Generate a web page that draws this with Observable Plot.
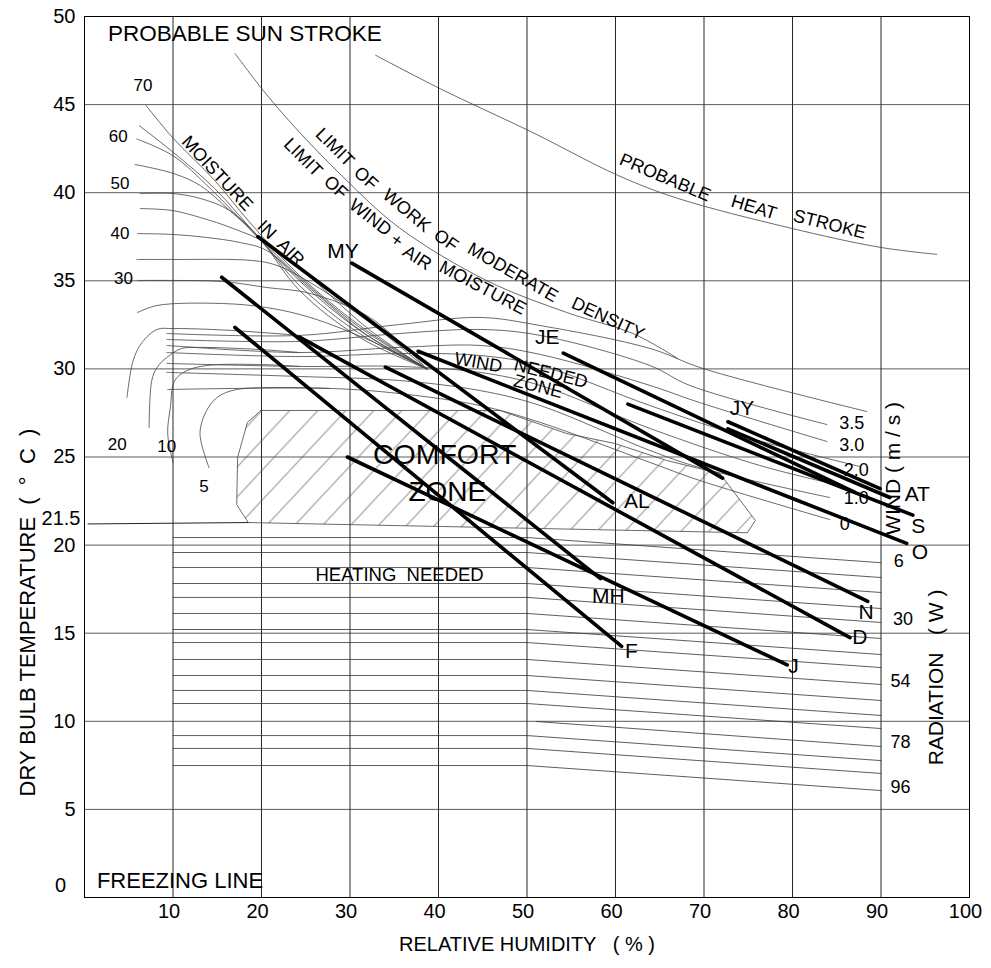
<!DOCTYPE html>
<html><head><meta charset="utf-8">
<script src="https://cdn.jsdelivr.net/npm/d3@7"></script>
<script src="https://cdn.jsdelivr.net/npm/@observablehq/plot@0.6"></script>
<style>body{margin:0;background:#fff}</style>
</head><body><div id="chart"></div>
<script>
// ---------- axes ----------
const xTicks = [10,20,30,40,50,60,70,80,90,100];
const yTicks = [5,10,15,20,25,30,35,40,45,50];
const xGrid = [10,20,30,40,50,60,70,80,90];
const yGrid = [5,10,15,20,25,30,35,40,45];

// ---------- boundary curves [RH %, T °C] ----------
const sunStrokeLimit = [[17.0,47.9],[20.2,45.8],[23.8,43.7],[29.2,40.9],[35.6,38.0],[45.5,35.0],[54.5,33.2],[62.0,32.0],[67.0,30.6]];
const heatStroke = [[32.9,47.8],[40.2,45.9],[50.7,43.4],[60.2,41.0],[66.9,39.7],[79.7,38.0],[89.9,36.9],[96.3,36.5]];

// moisture lines (left fan)
const moisture70 = [[6.95,44.95],[10.0,43.1],[14.7,40.7],[18.7,38.3],[24.3,35.3],[31.1,32.46],[38.7,30.0]];
const moisture65 = [[6.2,43.8],[10.0,42.3],[14.7,40.24],[19.3,37.7],[24.3,35.2],[31.1,32.35],[38.7,30.0]];
const moisture60 = [[5.9,43.05],[10.0,42.1],[14.2,40.24],[19.3,37.6],[24.3,35.0],[31.1,32.18],[38.7,30.0]];
const moisture55 = [[5.7,41.6],[10.0,41.1],[13.1,40.4],[16.4,38.99],[19.6,37.52],[24.3,34.73],[31.1,32.0],[38.7,30.0]];
const moisture50 = [[6.3,39.95],[10.0,39.95],[13.1,39.67],[16.4,38.99],[19.8,37.4],[24.3,34.45],[31.1,31.78],[38.7,30.0]];
const moisture45 = [[6.3,39.1],[9.9,38.99],[13.1,38.59],[16.8,37.97],[20.6,37.12],[25.5,35.19],[32.3,32.18],[38.7,30.0]];
const moisture40 = [[6.0,37.68],[10.0,37.63],[13.8,37.46],[17.6,37.17],[20.6,36.72],[25.5,34.56],[32.3,31.78],[38.7,30.0]];
const moisture35 = [[5.9,36.21],[10.0,36.21],[19.0,36.15],[21.75,35.87],[25.5,34.9],[32.3,32.6],[38.7,30.0]];
const moisture30 = [[6.0,35.02],[10.0,35.02],[15.6,34.96],[20.6,34.62],[25.5,34.28],[32.3,32.9],[38.7,30.0]];
const moisture25 = [[6.0,33.2],[8.2,33.6],[15.6,33.71],[20.6,33.48],[25.5,32.92],[32.3,31.6],[38.7,30.0]];

// hook curves 20, 15, 10, 5
const hook20 = [[4.8,28.38],[5.5,30.48],[6.5,31.5],[8.2,32.24],[10.0,32.29],[16.0,32.2],[24.3,31.9]];
const hook15 = [[7.3,26.67],[7.6,29.34],[8.2,30.08],[9.3,30.65],[11.0,31.16],[13.1,31.22],[19.8,31.1],[24.3,30.93]];
const hook10 = [[10.0,24.69],[9.4,26.33],[9.7,27.81],[10.2,29.34],[11.6,29.91],[13.8,30.19],[19.8,30.25],[24.3,30.14]];
const hook5 = [[14.07,24.4],[13.05,26.33],[13.8,27.64],[15.0,28.38],[17.2,28.83],[27.7,28.89]];

// wind lines
const wind1 = [[9.3,32.01],[24.3,31.9],[35.6,32.52],[44.7,32.92],[51.5,32.46],[63.9,31.16],[69.9,30.02],[88.4,27.58]];
const wind2 = [[9.3,31.67],[24.3,31.56],[35.6,32.01],[44.7,32.24],[51.5,31.9],[63.9,30.19],[68.4,29.06],[83.9,26.84]];
const wind3 = [[9.3,31.33],[24.3,30.93],[35.6,31.22],[44.7,31.33],[51.5,30.82],[63.9,29.06],[69.5,28.09],[83.9,25.88]];
const wind4 = [[9.3,30.93],[24.3,30.7],[35.6,30.87],[44.7,30.76],[51.5,30.19],[63.9,27.92],[74.1,26.22],[87.6,24.46]];
const wind5 = [[9.3,30.31],[24.3,30.14],[35.6,30.14],[44.7,29.8],[51.5,29.06],[63.9,26.62],[76.3,24.52],[85.4,23.38]];
const wind6 = [[9.3,29.8],[24.3,29.57],[35.6,29.34],[44.7,28.77],[51.5,27.92],[63.9,25.37],[69.5,24.4],[84.2,22.7]];
const wind7 = [[9.4,28.83],[27.7,28.89],[35.6,28.6],[44.7,27.92],[51.5,26.96],[63.9,24.69],[69.5,23.67],[84.2,21.45]];

// comfort zone outline and 21.5 line
const comfortZone = [[19.95,27.64],[46.95,27.64],[54.5,26.33],[59.9,25.77],[65.8,24.8],[71.8,24.06],[75.2,21.8],[75.8,21.4],[74.9,20.7],[18.5,21.28],[17.2,22.3],[17.3,24.97],[18.4,26.96],[19.95,27.64]];
const line215 = [[0.4,21.2],[18.5,21.28]];

// radiation lines (flat from start to bend, then down to 90 %)
const radStartRH = [10,10,10,10,10,10,10,10,10,10,10,10,51,10,10,10];
const radStartT  = [20.43,19.58,18.73,17.82,17.03,16.12,15.21,14.47,13.51,12.6,11.75,11.01,9.99,9.19,8.46,7.49];
const radEndT    = [19.0,18.16,17.31,16.4,15.61,14.7,13.79,13.05,12.09,11.18,10.33,9.59,8.57,7.77,7.04,6.07];

// monthly climate lines
const monthNames = ["F","MH","AL","MY","J","D","N","O","S","AT","JY","JE"];
const monthRH1 = [17.0,15.5,19.6,30.2,29.7,24.3,34.0,37.7,61.4,72.7,72.7,54.1];
const monthT1  = [32.35,35.2,37.5,36.0,25.0,31.8,30.1,31.0,28.0,26.6,27.0,30.9];
const monthRH2 = [60.7,58.3,59.7,72.1,79.4,86.5,88.5,92.9,93.6,91.0,89.9,87.0];
const monthT2  = [14.25,18.1,22.4,23.8,13.2,14.75,16.8,20.1,21.7,22.7,23.2,23.0];
const monthLabelRH = [61.8,59.2,62.4,29.2,80.1,87.6,88.3,94.4,94.2,94.1,74.3,52.3];
const monthLabelT  = [13.96,17.1,22.5,36.7,13.1,14.75,16.2,19.6,21.05,22.9,27.75,31.8];

// small numeric labels
const moistLabels = ["70","60","50","40","30","20","10","5"];
const moistLabelRH = [6.6,3.8,4.0,4.0,4.4,3.7,9.3,13.5];
const moistLabelT = [46.1,43.2,40.5,37.7,35.1,25.7,25.6,23.3];
const windLabels = ["3.5","3.0","2.0","1.0","0"];
const windLabelRH = [86.7,86.7,87.2,87.2,85.9];
const windLabelT = [26.9,25.65,24.23,22.64,21.2];
const radLabels = ["6","30","54","78","96"];
const radLabelRH = [92.0,92.5,92.2,92.2,92.2];
const radLabelT = [19.1,15.8,12.26,8.8,6.24];

// rotated annotations, word by word along their curves
const noteText = ["MOISTURE","IN","AIR",
  "LIMIT","OF","WORK","OF","MODERATE","DENSITY",
  "LIMIT","OF","WIND","+","AIR","MOISTURE",
  "PROBABLE","HEAT","STROKE",
  "WIND","NEEDED","ZONE"];
const noteRH = [15.0,20.6,23.3, 28.3,31.8,36.4,40.85,48.4,59.15, 24.7,28.4,32.3,35.3,37.6,45.0, 65.6,75.65,84.2, 44.5,52.7,51.25];
const noteT = [41.1,37.9,36.6, 42.57,40.81,38.99,37.29,35.47,32.86, 42.0,40.3,38.6,37.3,36.3,34.6, 40.86,39.16,38.2, 30.36,29.74,29.0];
const noteAngle = [47,45,45, 45,42,40,35,30,25, 45,42,38,35,33,28, 23,17,14, 10,14,14];

// ---------- build tables ----------
const curveList = [["sun",sunStrokeLimit],["heat",heatStroke],["m70",moisture70],["m65",moisture65],["m60",moisture60],["m55",moisture55],["m50",moisture50],["m45",moisture45],["m40",moisture40],["m35",moisture35],["m30",moisture30],["m25",moisture25],["h20",hook20],["h15",hook15],["h10",hook10],["h5",hook5],["w1",wind1],["w2",wind2],["w3",wind3],["w4",wind4],["w5",wind5],["w6",wind6],["w7",wind7]];
const thin = curveList.flatMap(([id, pts]) => pts.map(([x,y]) => ({id, x, y})));
const rad = radStartT.flatMap((t, i) => [
  {id: i, x: radStartRH[i], y: t},
  {id: i, x: Math.max(50, radStartRH[i]), y: t},
  {id: i, x: 90, y: radEndT[i]}
]);
const months = monthNames.flatMap((m, i) => [{id: m, x: monthRH1[i], y: monthT1[i]}, {id: m, x: monthRH2[i], y: monthT2[i]}]);
const comfort = comfortZone.map(([x,y]) => ({x, y}));
const l215 = line215.map(([x,y]) => ({x, y}));
const font = "Liberation Sans, Arial, Helvetica, sans-serif";

const chart = Plot.plot({
  width: 991, height: 968,
  marginLeft: 84, marginRight: 22, marginTop: 16, marginBottom: 71,
  x: {domain: [0, 100]},
  y: {domain: [0, 50]},
  style: {fontFamily: font, background: "#fff", color: "#000"},
  marks: [
    Plot.gridX(xGrid, {stroke: "#111", strokeOpacity: 0.9, strokeWidth: 1}),
    Plot.gridY(yGrid, {stroke: "#333", strokeOpacity: 0.8, strokeWidth: 1}),
    Plot.frame({stroke: "#000", strokeWidth: 1}),
    Plot.line(rad, {x: "x", y: "y", z: "id", stroke: "#333", strokeWidth: 0.8}),
    Plot.line(l215, {x: "x", y: "y", stroke: "#222", strokeWidth: 1}),
    Plot.line(comfort, {x: "x", y: "y", fill: "url(#hatch)", stroke: "#444", strokeWidth: 0.8, curve: "linear"}),
    Plot.line(thin, {x: "x", y: "y", z: "id", stroke: "#444", strokeWidth: 0.8, curve: "catmull-rom"}),
    Plot.line(months, {x: "x", y: "y", z: "id", stroke: "#000", strokeWidth: 3.6}),
    Plot.axisX(xTicks, {tickSize: 0, tickPadding: 6, fontSize: 20, dx: -4, label: null}),
    Plot.axisY(yTicks, {tickSize: 0, tickPadding: 9, fontSize: 20, label: null}),
    Plot.text([0], {x: 0, y: 0, text: () => "0", fontSize: 20, dx: -24, dy: -12}),
    Plot.text(["21.5"], {x: 0, y: 21.5, text: d => d, fontSize: 20, dx: -4, textAnchor: "end"}),
    Plot.text(["RELATIVE HUMIDITY   ( % )"], {x: 50, y: -2.67, text: d => d, fontSize: 20}),
    Plot.text(["DRY BULB TEMPERATURE  (  \u00b0  C  )"], {x: -6.38, y: 16.17, text: d => d, fontSize: 22, rotate: -90}),
    Plot.text(["WIND ( m / s )"], {x: 91.4, y: 24.35, text: d => d, fontSize: 21, rotate: -90}),
    Plot.text(["RADIATION   ( W )"], {x: 96.3, y: 12.49, text: d => d, fontSize: 21, rotate: -90}),
    Plot.text(["PROBABLE SUN STROKE"], {x: 2.66, y: 49.0, text: d => d, fontSize: 22.5, textAnchor: "start"}),
    Plot.text(["FREEZING LINE"], {x: 1.4, y: 0.96, text: d => d, fontSize: 22, textAnchor: "start"}),
    Plot.text(["COMFORT"], {x: 40.7, y: 25.1, text: d => d, fontSize: 28.5}),
    Plot.text(["ZONE"], {x: 41.0, y: 23.0, text: d => d, fontSize: 28}),
    Plot.text(["HEATING  NEEDED"], {x: 35.6, y: 18.3, text: d => d, fontSize: 18.5}),
    Plot.text(monthNames, {x: (d, i) => monthLabelRH[i], y: (d, i) => monthLabelT[i], text: d => d, fontSize: 21}),
    Plot.text(moistLabels, {x: (d, i) => moistLabelRH[i], y: (d, i) => moistLabelT[i], text: d => d, fontSize: 17}),
    Plot.text(windLabels, {x: (d, i) => windLabelRH[i], y: (d, i) => windLabelT[i], text: d => d, fontSize: 18}),
    Plot.text(radLabels, {x: (d, i) => radLabelRH[i], y: (d, i) => radLabelT[i], text: d => d, fontSize: 18}),
    Plot.text(noteText, {x: (d, i) => noteRH[i], y: (d, i) => noteT[i], text: d => d, rotate: (d, i) => noteAngle[i], fontSize: 18})
  ]
});

const ns = "http://www.w3.org/2000/svg";
const defs = document.createElementNS(ns, "defs");
const pat = document.createElementNS(ns, "pattern");
pat.setAttribute("id", "hatch");
pat.setAttribute("patternUnits", "userSpaceOnUse");
pat.setAttribute("width", "28");
pat.setAttribute("height", "30");
const hp = document.createElementNS(ns, "path");
hp.setAttribute("d", "M-2,32.1 L30,-2.1");
hp.setAttribute("stroke", "#555");
hp.setAttribute("stroke-width", "0.9");
hp.setAttribute("fill", "none");
pat.appendChild(hp);
defs.appendChild(pat);
chart.insertBefore(defs, chart.firstChild);
document.getElementById("chart").appendChild(chart);
</script></body></html>
